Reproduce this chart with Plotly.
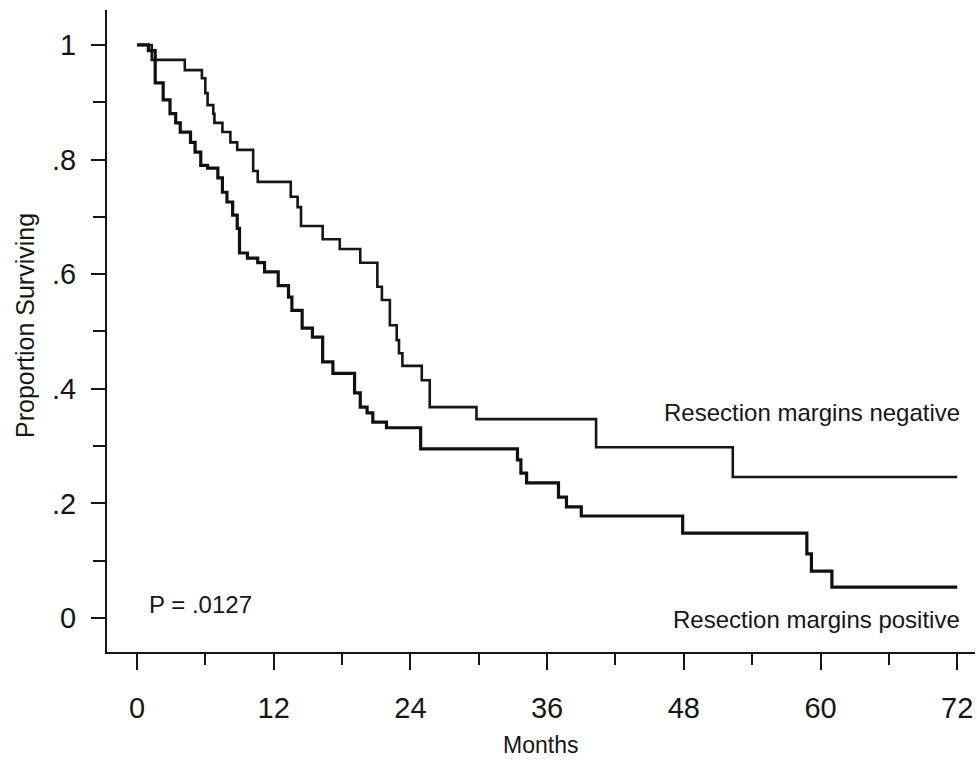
import plotly.graph_objects as go

# Resection margins negative (upper curve): event month, survival after event
neg_months = [0, 1.3, 4.2, 5.7, 6.0, 6.2, 6.7, 6.8, 7.5, 8.2, 8.8, 10.2, 10.6,
              13.5, 14.1, 14.4, 16.3, 17.8, 19.6, 21.1, 21.5, 22.2, 22.8, 23.0,
              23.3, 25.0, 25.7, 29.8, 40.3, 52.3, 72]
neg_surv = [1.0, 0.974, 0.956, 0.942, 0.916, 0.895, 0.88, 0.864, 0.848, 0.83,
            0.817, 0.78, 0.761, 0.735, 0.717, 0.684, 0.661, 0.644, 0.62, 0.578,
            0.555, 0.511, 0.485, 0.462, 0.44, 0.415, 0.368, 0.347, 0.298, 0.246,
            0.246]

# Resection margins positive (lower curve)
pos_months = [0, 1.0, 1.6, 2.3, 2.9, 3.4, 3.8, 4.7, 5.1, 5.6, 6.2, 7.1, 7.5, 7.9,
              8.4, 8.8, 9.0, 9.7, 10.6, 11.2, 12.4, 13.3, 13.6, 14.5, 15.4, 16.3,
              17.2, 19.1, 19.6, 20.2, 20.7, 21.9, 24.9, 33.4, 33.7, 34.2, 37.0,
              37.7, 39.0, 47.9, 58.8, 59.2, 61.0, 72]
pos_surv = [1.0, 0.99, 0.934, 0.904, 0.88, 0.864, 0.848, 0.83, 0.813, 0.79,
            0.785, 0.768, 0.743, 0.726, 0.703, 0.68, 0.637, 0.628, 0.62, 0.604,
            0.58, 0.56, 0.537, 0.506, 0.49, 0.447, 0.427, 0.393, 0.368, 0.358,
            0.342, 0.332, 0.295, 0.276, 0.253, 0.236, 0.211, 0.194, 0.178, 0.148,
            0.112, 0.082, 0.054, 0.054]

x_ticks = [0, 12, 24, 36, 48, 60, 72]
x_labels = ["0", "12", "24", "36", "48", "60", "72"]
y_ticks = [0, 0.2, 0.4, 0.6, 0.8, 1.0]
y_labels = ["0", ".2", ".4", ".6", ".8", "1"]

FONT = "Liberation Sans, Arial, sans-serif"
INK = "#161616"

fig = go.Figure()
fig.add_trace(go.Scatter(x=neg_months, y=neg_surv, mode="lines",
                         line=dict(shape="hv", color=INK, width=2.6),
                         hoverinfo="skip", showlegend=False))
fig.add_trace(go.Scatter(x=pos_months, y=pos_surv, mode="lines",
                         line=dict(shape="hv", color="#101010", width=3.2),
                         hoverinfo="skip", showlegend=False))

fig.update_layout(
    width=977, height=760,
    margin=dict(l=107, r=2, t=10, b=108),
    paper_bgcolor="white", plot_bgcolor="white",
    font=dict(family=FONT, color=INK),
    showlegend=False,
    xaxis=dict(range=[-2.63, 73.56], showgrid=False, zeroline=False,
               showline=True, linecolor=INK, linewidth=2.2,
               tickmode="array", tickvals=x_ticks, ticktext=x_labels,
               ticks="outside", ticklen=16, tickwidth=2.2, tickcolor=INK,
               tickfont=dict(size=29, family=FONT, color=INK),
               ticklabelstandoff=13,
               minor=dict(dtick=6, tick0=0, ticks="outside", ticklen=11,
                          tickwidth=2, tickcolor=INK)),
    yaxis=dict(range=[-0.0593, 1.061], showgrid=False, zeroline=False,
               showline=True, linecolor=INK, linewidth=2.2,
               tickmode="array", tickvals=y_ticks, ticktext=y_labels,
               ticks="outside", ticklen=14, tickwidth=2.2, tickcolor=INK,
               tickfont=dict(size=29, family=FONT, color=INK),
               ticklabelstandoff=9,
               minor=dict(dtick=0.1, tick0=0, ticks="outside", ticklen=12,
                          tickwidth=2, tickcolor=INK)),
)

fig.add_annotation(text="Months", xref="paper", yref="paper",
                   x=(540 - 107) / 868, y=-(745 - 652) / 642,
                   showarrow=False, font=dict(size=23, family=FONT, color=INK),
                   xanchor="center", yanchor="middle")
fig.add_annotation(text="Proportion Surviving", xref="paper", yref="paper",
                   x=(25 - 107) / 868, y=(652 - 326) / 642, textangle=-90,
                   showarrow=False, font=dict(size=25, family=FONT, color=INK),
                   xanchor="center", yanchor="middle")
fig.add_annotation(text="Resection margins negative", x=72.4, y=0.358,
                   showarrow=False, font=dict(size=24, family=FONT, color=INK),
                   xanchor="right", yanchor="middle")
fig.add_annotation(text="Resection margins positive", x=72.4, y=-0.003,
                   showarrow=False, font=dict(size=24, family=FONT, color=INK),
                   xanchor="right", yanchor="middle")
fig.add_annotation(text="P = .0127", x=0.88, y=0.023,
                   showarrow=False, font=dict(size=24, family=FONT, color=INK),
                   xanchor="left", yanchor="middle")

fig.write_html("out.html")
